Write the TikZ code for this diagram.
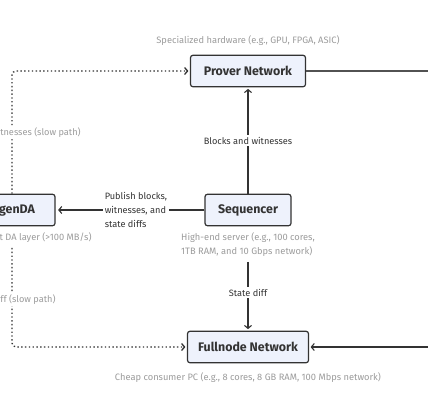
\documentclass[tikz,border=0pt]{standalone}
\usepackage{fontspec}
\setmainfont{Fira Sans}
\usetikzlibrary{shapes, arrows.meta, positioning}
\definecolor{boxfill}{HTML}{EEF2FC}
\definecolor{boxline}{HTML}{333333}
\definecolor{notegray}{HTML}{9C9C9C}
\tikzstyle{netbox} = [rectangle, draw=boxline, line width=1.2pt, rounded corners=2.5pt, fill=boxfill, text=boxline, font=\fontsize{12.4}{14}\selectfont\bfseries, minimum height=31.5pt, text centered]
\tikzstyle{hwnote} = [text=notegray, font=\fontsize{9.3}{14}\selectfont, inner sep=0pt, outer sep=5pt]
\tikzstyle{edgelabel} = [fill=white, text=boxline, font=\fontsize{9.2}{14}\selectfont, inner sep=2pt]
\tikzstyle{line} = [draw=boxline, line width=1.1pt, -{Straight Barb[length=3pt, width=7pt]}, shorten >=1.5pt]
\tikzstyle{slowline} = [line, line width=1.3pt, dash pattern=on 1.4pt off 2.4pt, rounded corners=4pt]

\begin{document}
\begin{tikzpicture}[x=1pt, y=-1pt]
    \useasboundingbox (0,0) rectangle (428,400);
    \fill[white] (0,0) rectangle (428,400);
    \clip (0,0) rectangle (428,400);

    \node[netbox, minimum width=115pt] (prover) at (248,71) {Prover Network};
    \node[netbox, minimum width=86pt, below of=prover, node distance=139pt] (seq) {Sequencer};
    \node[netbox, minimum width=121pt, below of=seq, node distance=137pt] (full) {Fullnode Network};
    \node[netbox, minimum width=86pt, left of=seq, node distance=236pt] (eigen) {EigenDA};

    \node[hwnote, above of=prover, node distance=30pt] (proverhw) {Specialized hardware (e.g., GPU, FPGA, ASIC)};
    \node[hwnote, align=left, below of=seq, node distance=35pt] (seqhw) {High-end server (e.g., 100 cores,\\1TB RAM, and 10 Gbps network)};
    \node[hwnote, below of=eigen, node distance=28pt] (eigenhw) {High-throughput DA layer (>100 MB/s)};
    \node[hwnote, below of=full, node distance=31pt] (fullhw) {Cheap consumer PC (e.g., 8 cores, 8 GB RAM, 100 Mbps network)};

    % off to the right
    \coordinate (proverout) at (440,71);
    \coordinate (fullin) at (440,347);

    \path[line] (seq) -- node[edgelabel] {Blocks and witnesses} (prover);
    \path[line] (seqhw) -- node[edgelabel, pos=0.45] {State diff} (full);
    \path[line, shorten >=2.5pt] (seq) -- node[edgelabel, align=left, pos=0.46] {Publish blocks,\\witnesses, and\\state diffs} (eigen);
    \path[slowline] (eigen) |- node[edgelabel, text=notegray, pos=0.25] {Blocks and witnesses (slow path)} (prover);
    \path[slowline] (eigenhw) |- node[edgelabel, text=notegray, pos=0.26] {State diff (slow path)} (full);
    \draw[boxline!85, line width=1.1pt] (prover) -- (proverout);
    \path[line] (fullin) -- (full);
\end{tikzpicture}
\end{document}
